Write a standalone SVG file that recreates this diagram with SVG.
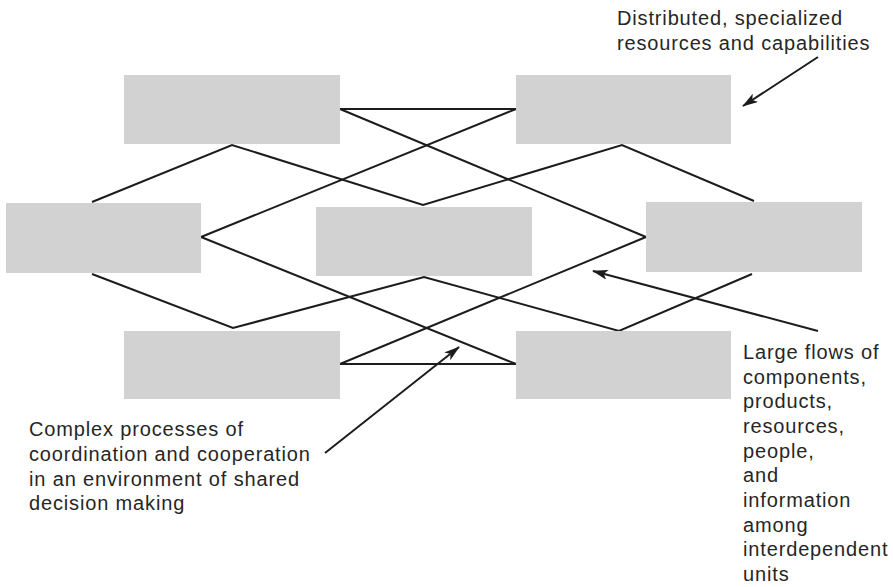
<svg xmlns="http://www.w3.org/2000/svg" width="893" height="587" viewBox="0 0 893 587">
<style>
.box{fill:#d2d2d2}
.ln{stroke:#1c1c1c;stroke-width:2;fill:none}
.arr{stroke:#1c1c1c;stroke-width:2;fill:none;marker-end:url(#ah)}
.t{font-family:"Liberation Sans",Arial,Helvetica,sans-serif;font-size:20px;letter-spacing:0.85px;fill:#262626}
</style>
<defs>
<marker id="ah" viewBox="0 0 16 10" refX="15" refY="5" markerWidth="17" markerHeight="10" markerUnits="userSpaceOnUse" orient="auto">
<path d="M0,0 L16,5 L0,10 L4,5 z" fill="#1c1c1c"/>
</marker>
</defs>
<rect width="893" height="587" fill="#fff"/>
<g id="connectors">
<line class="ln" x1="340" y1="109" x2="516" y2="109"/>
<line class="ln" x1="340" y1="109" x2="646" y2="237"/>
<line class="ln" x1="516" y1="109" x2="201" y2="237"/>
<polyline class="ln" points="92,202 232,145 423,205 622,145 754,201"/>
<polyline class="ln" points="92,274 233,328 424,277 619,331 752,274"/>
<line class="ln" x1="201" y1="237" x2="516" y2="364"/>
<line class="ln" x1="340" y1="364" x2="646" y2="237"/>
<line class="ln" x1="340" y1="364" x2="516" y2="364"/>
</g>
<g id="node-tl"><rect class="box" x="124" y="75" width="216" height="69"/></g>
<g id="node-tr"><rect class="box" x="516" y="75" width="215" height="69"/></g>
<g id="node-ml"><rect class="box" x="6" y="203" width="195" height="70"/></g>
<g id="node-mc"><rect class="box" x="316" y="207" width="216" height="69"/></g>
<g id="node-mr"><rect class="box" x="646" y="202" width="216" height="70"/></g>
<g id="node-bl"><rect class="box" x="124" y="331" width="216" height="68"/></g>
<g id="node-br"><rect class="box" x="516" y="331" width="215" height="68"/></g>
<g id="annotations">
<line class="arr" x1="818" y1="57" x2="743" y2="106"/>
<line class="arr" x1="818" y1="331" x2="593" y2="271"/>
<line class="arr" x1="325" y1="453" x2="459" y2="347"/>
<text class="t" x="617" y="25">Distributed, specialized</text>
<text class="t" x="617" y="50">resources and capabilities</text>
<text class="t" x="29" y="436">Complex processes of</text>
<text class="t" x="29" y="461">coordination and cooperation</text>
<text class="t" x="29" y="486">in an environment of shared</text>
<text class="t" x="29" y="510">decision making</text>
<text class="t" x="743" y="359">Large flows of</text>
<text class="t" x="743" y="384">components,</text>
<text class="t" x="743" y="408">products,</text>
<text class="t" x="743" y="433">resources,</text>
<text class="t" x="743" y="458">people,</text>
<text class="t" x="743" y="482">and</text>
<text class="t" x="743" y="507">information</text>
<text class="t" x="743" y="532">among</text>
<text class="t" x="743" y="556">interdependent</text>
<text class="t" x="743" y="581">units</text>
</g>
</svg>
